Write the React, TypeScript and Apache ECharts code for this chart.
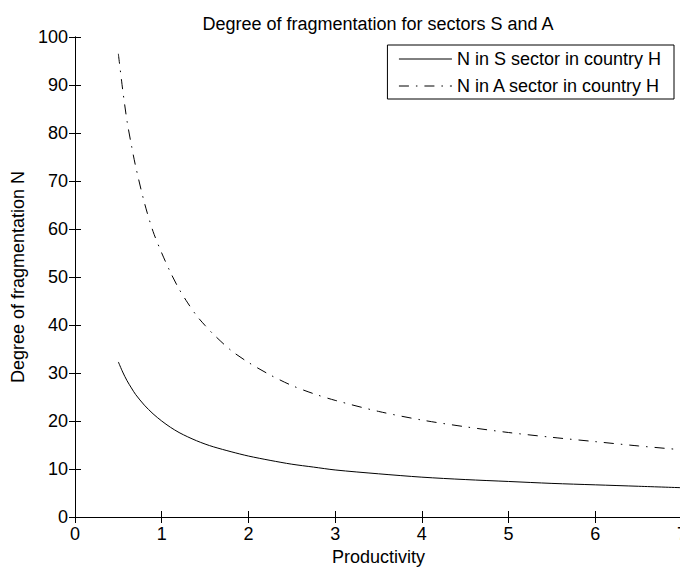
import React, { useEffect, useRef } from "react";
import * as echarts from "echarts";

const productivity = [0.5, 0.55, 0.6, 0.65, 0.7, 0.8, 0.9, 1.0, 1.1, 1.2, 1.3, 1.4, 1.5, 1.6, 1.8, 2.0, 2.25, 2.5, 2.75, 3.0, 3.5, 4.0, 4.5, 5.0, 5.5, 6.0, 6.5, 7.0];
const nSectorS = [32.3, 30.2, 28.4, 26.9, 25.5, 23.3, 21.5, 20.0, 18.7, 17.6, 16.7, 15.9, 15.2, 14.6, 13.6, 12.7, 11.8, 11.0, 10.4, 9.8, 9.0, 8.3, 7.8, 7.4, 7.0, 6.7, 6.4, 6.1];
const nSectorA = [96.5, 89.0, 82.5, 77.5, 73.0, 65.5, 59.5, 55.0, 51.0, 47.5, 44.6, 42.0, 39.9, 38.0, 34.7, 32.2, 29.6, 27.4, 25.7, 24.3, 22.0, 20.2, 18.8, 17.6, 16.6, 15.7, 14.8, 14.0];
const seriesNames = ["N in S sector in country H", "N in A sector in country H"];
const titleText = "Degree of fragmentation for sectors S and A";
const xName = "Productivity";
const yName = "Degree of fragmentation N";

const FONT = "'Liberation Sans', Arial, Helvetica, sans-serif";
const FS = 18;

export default function App() {
  const ref = useRef<HTMLDivElement>(null);
  useEffect(() => {
    if (!ref.current) return;
    const chart = echarts.init(ref.current, null, { renderer: "svg" });
    const tickStyle = { show: true, inside: true, length: 6, lineStyle: { color: "#000", width: 1 } };
    const axisLine = { show: true, lineStyle: { color: "#000", width: 1 } };
    chart.setOption({
      animation: false,
      backgroundColor: "#fff",
      textStyle: { fontFamily: FONT, color: "#000" },
      title: {
        text: titleText,
        left: 378,
        top: 15,
        padding: 0,
        textAlign: "center",
        textStyle: { fontFamily: FONT, fontSize: FS, fontWeight: "normal", color: "#000" },
      },
      legend: {
        orient: "vertical",
        right: 6,
        top: 45,
        backgroundColor: "#fff",
        borderColor: "#000",
        borderWidth: 1,
        borderRadius: 0,
        padding: [5, 13, 4, 11],
        itemGap: 9,
        itemWidth: 53,
        itemHeight: 14,
        itemStyle: { opacity: 0 },
        lineStyle: { width: 1, color: "#000" },
        textStyle: { fontFamily: FONT, fontSize: FS, color: "#000" },
        data: seriesNames,
      },
      grid: { left: 75, width: 607, top: 37, height: 480, containLabel: false, outerBoundsMode: "none" },
      xAxis: [
        {
          type: "value",
          min: 0,
          max: 7,
          interval: 1,
          name: xName,
          nameLocation: "middle",
          nameGap: 31,
          nameTextStyle: { fontFamily: FONT, fontSize: FS, color: "#000" },
          axisLine,
          axisTick: tickStyle,
          axisLabel: { fontFamily: FONT, fontSize: FS, color: "#000", margin: 8, showMaxLabel: true },
          splitLine: { show: false },
        },
        {
          type: "value",
          position: "top",
          min: 0,
          max: 7,
          interval: 1,
          axisLine,
          axisTick: tickStyle,
          axisLabel: { show: false },
          splitLine: { show: false },
        },
      ],
      yAxis: [
        {
          type: "value",
          min: 0,
          max: 100,
          interval: 10,
          name: yName,
          nameLocation: "middle",
          nameGap: 40,
          nameTextStyle: { fontFamily: FONT, fontSize: FS, color: "#000" },
          axisLine,
          axisTick: tickStyle,
          axisLabel: { fontFamily: FONT, fontSize: FS, color: "#000", margin: 7 },
          splitLine: { show: false },
        },
        {
          type: "value",
          position: "right",
          min: 0,
          max: 100,
          interval: 10,
          axisLine,
          axisTick: tickStyle,
          axisLabel: { show: false },
          splitLine: { show: false },
        },
      ],
      series: [
        {
          name: seriesNames[0],
          type: "line",
          data: productivity.map((x, i) => [x, nSectorS[i]]),
          showSymbol: false,
          symbol: "none",
          smooth: 0.3,
          lineStyle: { color: "#000", width: 1, type: "solid" },
          itemStyle: { color: "#000" },
        },
        {
          name: seriesNames[1],
          type: "line",
          data: productivity.map((x, i) => [x, nSectorA[i]]),
          showSymbol: false,
          symbol: "none",
          smooth: 0.3,
          lineStyle: { color: "#000", width: 1, type: [10, 7, 1.5, 7] },
          itemStyle: { color: "#000" },
        },
      ],
    });
    return () => chart.dispose();
  }, []);
  return <div ref={ref} style={{ width: 680, height: 568, position: "absolute", left: 0, top: 0 }} />;
}
